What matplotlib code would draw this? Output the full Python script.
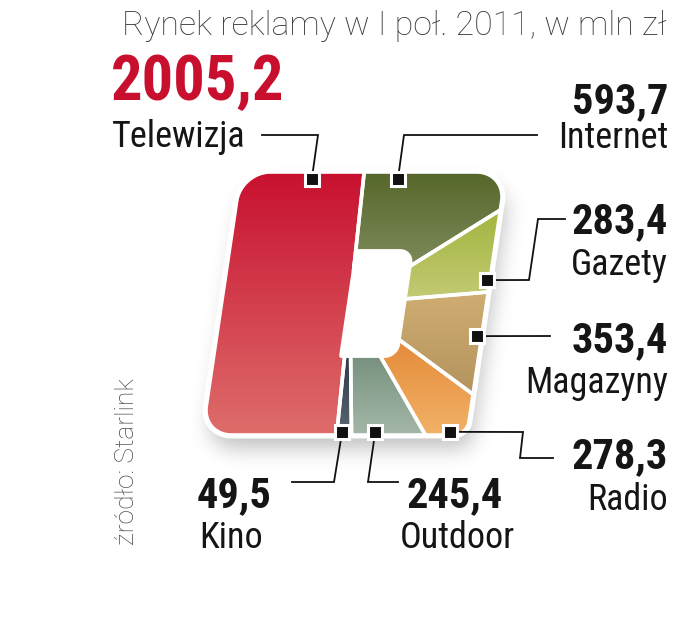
import numpy as np
import matplotlib
matplotlib.use('Agg')
import matplotlib.pyplot as plt
from matplotlib.patches import Polygon
from matplotlib.path import Path

# data
names = ['Telewizja', 'Kino', 'Outdoor', 'Radio', 'Magazyny', 'Gazety', 'Internet']
values = [2005.2, 49.5, 245.4, 278.3, 353.4, 283.4, 593.7]
top_colors = ['#c8102f', '#2e3a45', '#77917e', '#e68a3a', '#d0ad72', '#a3b53e', '#56672a']
bottom_colors = ['#de6d6b', '#5a6672', '#a4b7a8', '#f1b266', '#b3945d', '#c3ca74', '#7f8c5d']
title = 'Rynek reklamy w I poł. 2011, w mln zł'
source = 'źródło: Starlink'

# layout (pixels, y down)
X0, Y0, W, H, S = 202, 435, 265, 263, 39     # sheared box
center = np.array([0.485, 0.5])
start_deg = 92.3
outer_box = (0.0, 1.0, 0.0, 1.0, (0.11, 0.05, 0.11, 0.11))
hole_box = (0.48, 0.69, 0.30, 0.70, (0.0, 0.045, 0.045, 0.0))

marker_uv = [(0.271, 0.975), (0.527, 0.01), (0.652, 0.01), (0.934, 0.012),
             (0.982, 0.376), (0.99, 0.589), (0.596, 0.975)]
leader = [[(318, 135), (262, 135)],
          [(334, 482), (292, 482)],
          [(368, 482), (398, 482)],
          [(523, 432), (520, 458), (553, 458)],
          [(550, 336)],
          [(529, 280), (538, 219), (565, 219)],
          [(404, 135), (537, 135)]]
num_pos = [(111, 100, 'left'), (197, 507, 'left'), (455, 507, 'center'),
           (668, 468, 'right'), (668, 352, 'right'), (668, 233, 'right'),
           (668, 113, 'right')]
lab_pos = [(112, 147, 'left'), (199, 548, 'left'), (457, 548, 'center'),
           (668, 510, 'right'), (668, 393, 'right'), (668, 275, 'right'),
           (668, 148, 'right')]

cond = ['Roboto Condensed', 'DejaVu Sans Condensed', 'Roboto']


def to_px(uv):
    uv = np.asarray(uv)
    return np.column_stack([X0 + W * uv[:, 0] + S * uv[:, 1], Y0 - H * uv[:, 1]])


def rounded_rect(u0, u1, v0, v1, radii, n=24):
    bl, br, tr, tl = radii
    pts = []
    for (cu, cv, r, a0) in [(u1 - br, v0 + br, br, -90), (u1 - tr, v1 - tr, tr, 0),
                            (u0 + tl, v1 - tl, tl, 90), (u0 + bl, v0 + bl, bl, 180)]:
        a = np.radians(np.linspace(a0, a0 + 90, n if r > 0 else 1))
        pts.append(np.column_stack([cu + r * np.cos(a), cv + r * np.sin(a)]))
    return np.vstack(pts)


def ray_dist(poly, c, ang):
    e = np.roll(poly, -1, axis=0) - poly
    w = poly - c
    d0, d1 = np.cos(ang)[:, None], np.sin(ang)[:, None]
    with np.errstate(divide='ignore', invalid='ignore'):
        den = d0 * e[None, :, 1] - d1 * e[None, :, 0]
        t = (w[None, :, 0] * e[None, :, 1] - w[None, :, 1] * e[None, :, 0]) / den
        s = (w[None, :, 0] * d1 - w[None, :, 1] * d0) / den
    ok = (s >= -1e-9) & (s <= 1 + 1e-9) & (t > 0)
    return np.where(ok, t, np.inf).min(axis=1)


outer = rounded_rect(*outer_box[:4], outer_box[4])
hole = rounded_rect(*hole_box[:4], hole_box[4])

# area-proportional angular split around the center
a_start = np.radians(start_deg)
th = np.linspace(a_start, a_start + 2 * np.pi, 7201)
dA = 0.5 * (ray_dist(outer, center, th) ** 2 - ray_dist(hole, center, th) ** 2)
cum = np.concatenate([[0], np.cumsum(0.5 * (dA[1:] + dA[:-1]) * np.diff(th))])
cum /= cum[-1]
frac = np.concatenate([[0], np.cumsum(values)]) / np.sum(values)
edges = np.interp(frac, cum, th)

fig = plt.figure(figsize=(6.85, 6.4), dpi=100)
ax = fig.add_axes([0, 0, 1, 1])

# shadow
outer_px = to_px(outer)
gx, gy = np.meshgrid(np.arange(685) + 0.5, np.arange(640) + 0.5)
mask = Path(outer_px).contains_points(np.column_stack([gx.ravel() - 4, gy.ravel() - 14]))
mask = mask.reshape(640, 685).astype(float)
for _ in range(3):
    for axis in (0, 1):
        k = 9
        c = np.cumsum(np.pad(mask, [(k + 1, k) if a == axis else (0, 0) for a in (0, 1)]), axis=axis)
        mask = (np.take(c, np.arange(2 * k + 1, c.shape[axis]), axis=axis)
                - np.take(c, np.arange(0, c.shape[axis] - 2 * k - 1), axis=axis)) / (2 * k + 1)
shadow = np.zeros((640, 685, 4))
shadow[..., :3] = 0.35
shadow[..., 3] = 0.36 * mask
ax.imshow(shadow, extent=(0, 685, 640, 0), zorder=0)

ax.add_patch(Polygon(outer_px, closed=True, fc='white', ec='white', lw=5, zorder=1))

for k in range(len(values)):
    a, b = edges[k], edges[k + 1]
    ang = np.linspace(a, b, max(3, int((b - a) / 0.004)))
    dirs = np.column_stack([np.cos(ang), np.sin(ang)])
    po = center + ray_dist(outer, center, ang)[:, None] * dirs
    pi = center + ray_dist(hole, center, ang)[:, None] * dirs
    pts = to_px(np.vstack([po, pi[::-1]]))
    y0, y1 = pts[:, 1].min(), pts[:, 1].max()
    c0 = np.array(matplotlib.colors.to_rgb(top_colors[k]))
    c1 = np.array(matplotlib.colors.to_rgb(bottom_colors[k]))
    g = np.linspace(0, 1, 256)[:, None, None]
    grad = c0 + (c1 - c0) * g
    grad = np.repeat(grad, 2, axis=1)
    im = ax.imshow(grad, extent=(pts[:, 0].min(), pts[:, 0].max(), y1, y0),
                   aspect='auto', zorder=2, interpolation='bilinear')
    patch = Polygon(pts, closed=True, fc='none', ec='white', lw=2.6, zorder=3,
                    joinstyle='round')
    ax.add_patch(patch)
    im.set_clip_path(patch)

# markers, leaders, labels
mk = to_px(marker_uv)
for k in range(len(values)):
    path = np.vstack([mk[k], leader[k]])
    ax.plot(path[:, 0], path[:, 1], color='#111111', lw=1.3, zorder=4,
            solid_joinstyle='miter')
    ax.plot(mk[k, 0], mk[k, 1], marker='s', ms=9.5, color='#111111', mec='white',
            mew=2.2, zorder=5)
    txt = f'{values[k]:.1f}'.replace('.', ',')
    x, y, ha = num_pos[k]
    big = k == 0
    ax.text(x, y, txt, ha=ha, va='baseline', family=cond, fontweight='bold',
            fontsize=45 if big else 30.5, color='#c8102e' if big else '#151515')
    x, y, ha = lab_pos[k]
    ax.text(x, y, names[k], ha=ha, va='baseline', family=cond, fontsize=26,
            color='#151515')

ax.text(122, 35, title, ha='left', va='baseline', family=['Roboto', 'DejaVu Sans'],
        fontweight='light', fontsize=24.4, color='#3a3a3a')
ax.text(134, 545, source, ha='left', va='baseline', rotation=90, rotation_mode='anchor',
        family=['Roboto', 'DejaVu Sans'], fontweight='light', fontsize=19, color='#4a4a4a')

ax.set_xlim(0, 685)
ax.set_ylim(640, 0)
ax.set_aspect('auto')
ax.axis('off')
fig.savefig('out.png', dpi=100)
